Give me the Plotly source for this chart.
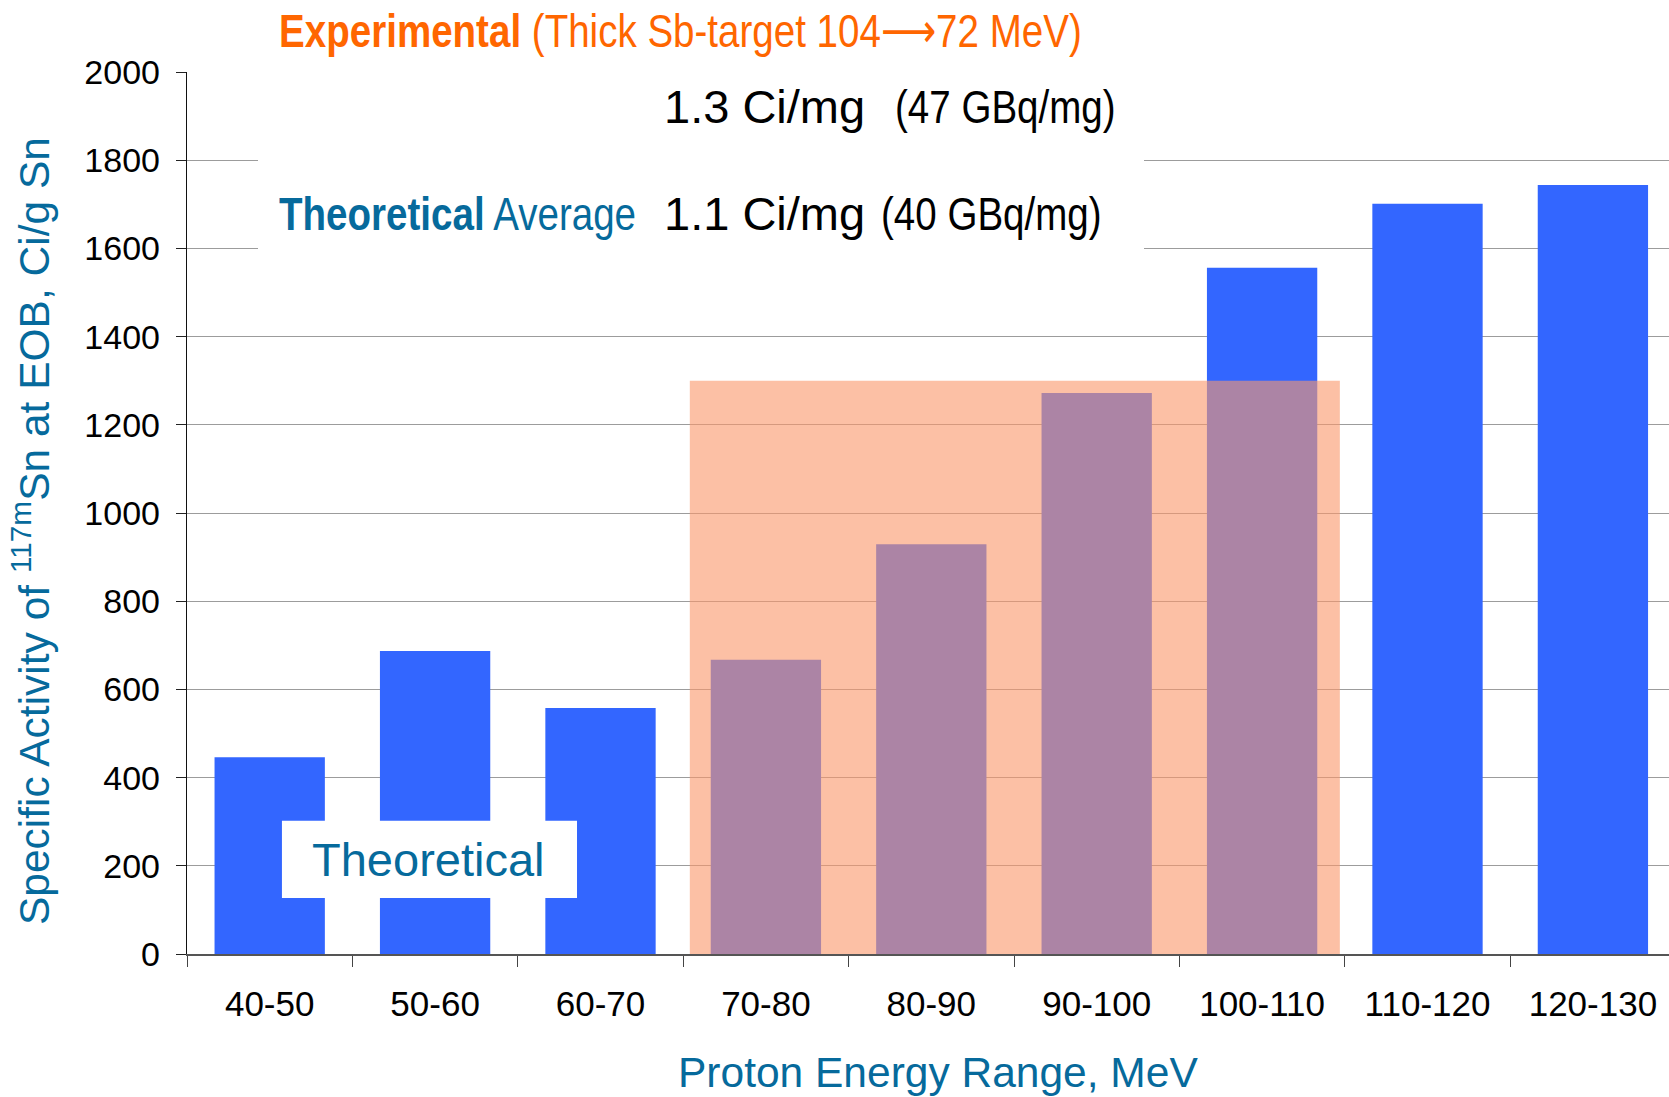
import plotly.graph_objects as go

# Proton energy bins and theoretical specific activity of Sn-117m at EOB (Ci/g Sn)
energy_ranges = ["40-50", "50-60", "60-70", "70-80", "80-90",
                 "90-100", "100-110", "110-120", "120-130"]
theoretical_activity = [446, 687, 558, 667, 929, 1272, 1556, 1701, 1744]

# Experimental thick Sb-target result (1.3 Ci/mg = 1300 Ci/g), covering 70-110 MeV
experimental_activity = 1300
experimental_span = ["70-80", "100-110"]

y_ticks = [0, 200, 400, 600, 800, 1000, 1200, 1400, 1600, 1800, 2000]

BLUE = "#3366ff"
TEAL = "#066a9c"
ORANGE = "#ff6600"
ARIAL = "Liberation Sans, Arial, sans-serif"

W, H = 1669, 1097
ML, MR, MT, MB = 187, 0, 72, 143
PW, PH = W - ML - MR, H - MT - MB


def px(x):
    return (x - ML) / PW


def py(y):
    return (H - MB - y) / PH


fig = go.Figure()
fig.add_trace(go.Bar(
    x=energy_ranges,
    y=theoretical_activity,
    marker=dict(color=BLUE, line=dict(width=0)),
    width=0.667,
    showlegend=False,
))

i0 = energy_ranges.index(experimental_span[0])
i1 = energy_ranges.index(experimental_span[1])

shapes = [
    # experimental band laid over the bars
    dict(type="rect", xref="x", yref="y",
         x0=i0 - 0.46, x1=i1 + 0.47, y0=0, y1=experimental_activity,
         fillcolor="rgb(250,152,108)", opacity=0.61, line=dict(width=0),
         layer="above"),
    # white panel behind the headline text
    dict(type="rect", xref="paper", yref="paper",
         x0=px(258), x1=px(1144), y0=py(262), y1=py(0),
         fillcolor="white", line=dict(width=0), layer="above"),
    # white panel behind the "Theoretical" label
    dict(type="rect", xref="x", yref="y",
         x0=0.074, x1=1.858, y0=127, y1=302,
         fillcolor="white", line=dict(width=0), layer="above"),
]

ARROW = "<span style='font-family:DejaVu Sans'>\u27f6</span>"

annotations = [
    dict(text="<b>Experimental</b> (Thick Sb-target 104" + ARROW + "72 MeV)",
         x=px(277), y=py(31), xref="paper", yref="paper",
         xanchor="left", yanchor="middle", showarrow=False,
         font=dict(family=ARIAL, size=47, color=ORANGE)),
    dict(text="1.3 Ci/mg", x=px(662), y=py(106.5), xref="paper", yref="paper",
         xanchor="left", yanchor="middle", showarrow=False,
         font=dict(family=ARIAL, size=47, color="black")),
    dict(text="(47 GBq/mg)", x=px(893), y=py(106.5), xref="paper", yref="paper",
         xanchor="left", yanchor="middle", showarrow=False,
         font=dict(family=ARIAL, size=47, color="black")),
    dict(text="<b>Theoretical</b> Average", x=px(277), y=py(213.5),
         xref="paper", yref="paper", xanchor="left", yanchor="middle",
         showarrow=False, font=dict(family=ARIAL, size=47, color=TEAL)),
    dict(text="1.1 Ci/mg", x=px(662), y=py(213.5), xref="paper", yref="paper",
         xanchor="left", yanchor="middle", showarrow=False,
         font=dict(family=ARIAL, size=47, color="black")),
    dict(text="(40 GBq/mg)", x=px(879), y=py(213.5), xref="paper", yref="paper",
         xanchor="left", yanchor="middle", showarrow=False,
         font=dict(family=ARIAL, size=47, color="black")),
    dict(text="Theoretical", x=0.96, y=214, xref="x", yref="y",
         xanchor="center", yanchor="middle", showarrow=False,
         font=dict(family=ARIAL, size=47, color=TEAL)),
    # axis titles
    dict(text="Proton Energy Range, MeV", x=px(937.5), y=py(1072),
         xref="paper", yref="paper", xanchor="center", yanchor="middle",
         showarrow=False, font=dict(family=ARIAL, size=42.5, color=TEAL)),
    dict(text="Specific Activity of <sup>117m</sup>Sn at EOB, Ci/g Sn",
         x=px(31), y=py(531), xref="paper", yref="paper",
         xanchor="center", yanchor="middle", textangle=-90,
         showarrow=False, font=dict(family=ARIAL, size=42.5, color=TEAL)),
]

# headline annotations set in a narrow face (horizontally condensed)
NARROW_ANNOTATIONS = [0, 2, 3, 5]

fig.update_layout(
    width=W, height=H,
    margin=dict(l=ML, r=MR, t=MT, b=MB, pad=0),
    paper_bgcolor="white", plot_bgcolor="white",
    bargap=0.333,
    shapes=shapes,
    annotations=annotations,
    xaxis=dict(
        type="category",
        range=[-0.5, -0.5 + PW / 165.4],
        tickson="boundaries",
        ticks="outside", ticklen=11, tickwidth=1.3, tickcolor="#444",
        showline=True, linecolor="#555", linewidth=1.6,
        showgrid=False, zeroline=False,
        tickfont=dict(family=ARIAL, size=35, color="black"),
        ticklabelstandoff=18,
    ),
    yaxis=dict(
        range=[0, 2000],
        tickvals=y_ticks,
        ticks="outside", ticklen=10, tickwidth=1.3, tickcolor="#222",
        showline=True, linecolor="#111", linewidth=1.4,
        showgrid=True, gridcolor="#9c9c9c", gridwidth=1.3,
        zeroline=False,
        tickfont=dict(family=ARIAL, size=34, color="black"),
        ticklabelstandoff=9,
    ),
)

condense_js = """
var gd = document.getElementById('{plot_id}');
%s.forEach(function (i) {
  var t = gd.querySelector('g.annotation[data-index="' + i + '"] text.annotation-text');
  if (t) {
    t.style.transformBox = 'fill-box';
    t.style.transformOrigin = 'left center';
    t.style.transform = 'scaleX(0.82)';
  }
});
""" % str(NARROW_ANNOTATIONS)

fig.write_html("out.html", post_script=condense_js)
